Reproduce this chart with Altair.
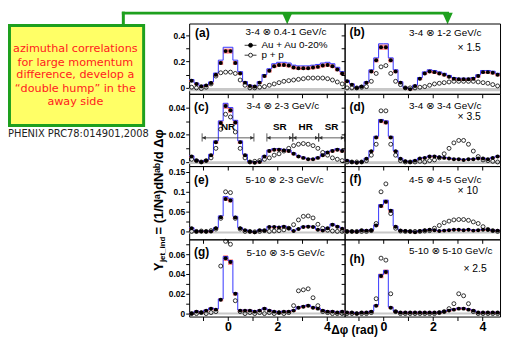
import math
import pandas as pd
import altair as alt

PI = math.pi
NB = 32
BW = PI / 16
x_centers = [-PI / 2 + (k + 0.5) * BW for k in range(NB)]

# ---- data (displayed values, incl. scale factors) ----
auau_a = [0.055, 0.03, 0.012, 0.018, 0.038, 0.10, 0.19, 0.28, 0.28, 0.19, 0.11, 0.04, 0.015, 0.01, 0.04, 0.09,
          0.13, 0.165, 0.175, 0.175, 0.17, 0.155, 0.15, 0.15, 0.15, 0.155, 0.16, 0.17, 0.175, 0.165, 0.14, 0.11]
pp_a = [0.005, 0.0, -0.005, 0.005, 0.03, 0.09, 0.115, 0.12, 0.12, 0.11, 0.06, 0.02, 0.0, 0.0, 0.005, 0.01,
        0.02, 0.03, 0.04, 0.05, 0.055, 0.06, 0.065, 0.07, 0.075, 0.075, 0.075, 0.075, 0.07, 0.06, 0.045, 0.03]
auau_b = [0.05, 0.025, 0.0, 0.01, 0.04, 0.125, 0.21, 0.31, 0.31, 0.21, 0.125, 0.04, 0.0, -0.01, 0.015, 0.07,
          0.11, 0.125, 0.12, 0.11, 0.10, 0.085, 0.07, 0.065, 0.065, 0.065, 0.07, 0.09, 0.12, 0.12, 0.115, 0.10]
pp_b = [0.0, 0.0, 0.0, 0.005, 0.01, 0.05, 0.11, 0.16, 0.17, 0.11, 0.05, 0.025, 0.0, 0.0, 0.0, 0.005,
        0.01, 0.02, 0.03, 0.035, 0.04, 0.045, 0.05, 0.05, 0.05, 0.05, 0.05, 0.045, 0.04, 0.035, 0.025, 0.015]
auau_c = [0.004, 0.001, 0.0, 0.001, 0.005, 0.0145, 0.0286, 0.041, 0.038, 0.029, 0.0145, 0.005, 0.0, -0.0005, 0.0, 0.004,
          0.008, 0.009, 0.009, 0.0085, 0.008, 0.006, 0.004, 0.003, 0.002, 0.002, 0.003, 0.005, 0.007, 0.008, 0.009, 0.008]
pp_c = [0.002, 0.001, 0.0, 0.001, 0.003, 0.01, 0.024, 0.035, 0.033, 0.022, 0.01, 0.003, 0.0, 0.0005, 0.001, 0.002,
        0.003, 0.005, 0.006, 0.008, 0.010, 0.012, 0.013, 0.0135, 0.013, 0.012, 0.010, 0.007, 0.005, 0.003, 0.002, 0.001]
auau_d = [0.001, 0.0, -0.0005, 0.0, 0.0024, 0.0078, 0.018, 0.030, 0.029, 0.018, 0.0078, 0.0024, 0.0005, 0.0, 0.001, 0.0025,
          0.003, 0.004, 0.004, 0.0035, 0.003, 0.0025, 0.002, 0.002, 0.0015, 0.002, 0.002, 0.0025, 0.0025, 0.002, 0.003, 0.004]
pp_d = [0.0, 0.0, 0.0, 0.0, 0.001, 0.005, 0.013, 0.0375, 0.0375, 0.013, 0.005, 0.001, 0.0, 0.0, 0.0, 0.0005,
        0.0, 0.001, 0.0015, 0.003, 0.006, 0.010, 0.014, 0.0158, 0.0158, 0.013, 0.008, 0.004, 0.0015, 0.001, 0.0005, 0.0]
auau_e = [0.008, 0.0, 0.0, 0.0, 0.0, 0.008, 0.036, 0.082, 0.078, 0.035, 0.008, 0.003, 0.0, -0.002, 0.003, 0.002,
          0.011, 0.011, 0.010, 0.012, 0.008, 0.001, 0.006, 0.011, 0.012, 0.011, 0.004, 0.002, 0.008, 0.017, 0.012, 0.007]
pp_e = [0.0, 0.0, 0.001, 0.0, 0.002, 0.006, 0.033, 0.10, 0.098, 0.033, 0.006, 0.0, 0.0, -0.001, 0.0, 0.002,
        0.0, 0.001, 0.002, 0.004, 0.008, 0.017, 0.029, 0.038, 0.039, 0.034, 0.018, 0.008, 0.003, 0.001, 0.0, 0.0]
auau_f = [0.0, 0.0, -0.001, 0.003, 0.002, 0.003, 0.015, 0.064, 0.075, 0.052, 0.012, 0.002, 0.001, 0.0, -0.002, 0.001,
          0.003, 0.004, 0.003, 0.001, 0.002, 0.003, 0.004, 0.004, 0.003, 0.004, 0.002, 0.003, 0.004, 0.004, 0.002, 0.002]
pp_f = [0.0, 0.0, 0.0, 0.0, 0.0, 0.002, 0.02, 0.10, 0.12, 0.045, 0.008, 0.001, 0.0, 0.0, 0.0, 0.0,
        0.001, 0.002, 0.008, 0.015, 0.022, 0.026, 0.029, 0.03, 0.03, 0.028, 0.024, 0.02, 0.012, 0.005, 0.002, 0.0]
auau_g = [0.0, 0.002, 0.001, 0.003, 0.005, 0.004, 0.014, 0.056, 0.052, 0.020, 0.003, 0.003, 0.003, 0.002, 0.003, 0.005,
          0.003, 0.002, 0.001, 0.002, 0.002, 0.003, 0.006, 0.007, 0.008, 0.006, 0.005, 0.003, 0.002, 0.002, 0.001, 0.002]
pp_g = [0.0, 0.0, 0.001, 0.0, 0.001, 0.002, 0.048, 0.073, 0.070, 0.013, 0.002, 0.0, 0.001, 0.0, 0.001, 0.0,
        0.001, 0.0, 0.001, 0.0, 0.001, 0.008, 0.023, 0.024, 0.025, 0.016, 0.008, 0.002, 0.001, 0.0, 0.0, 0.0]
auau_h = [0.001, 0.001, 0.0, 0.001, 0.001, 0.002, 0.008, 0.038, 0.042, 0.006, 0.002, 0.001, 0.001, 0.001, 0.001, 0.001,
          0.001, 0.001, 0.001, 0.001, 0.002, 0.003, 0.004, 0.005, 0.005, 0.004, 0.003, 0.001, 0.001, 0.001, 0.001, 0.001]
pp_h = [0.0, 0.0, 0.0, 0.0, 0.0, 0.001, 0.015, 0.056, 0.054, 0.02, 0.002, 0.0, 0.0, 0.0, 0.0, 0.0,
        0.0, 0.0, 0.0, 0.001, 0.002, 0.005, 0.01, 0.02, 0.018, 0.01, 0.002, 0.0, 0.0, 0.0, 0.0, 0.0]

AUAU = [auau_a, auau_b, auau_c, auau_d, auau_e, auau_f, auau_g, auau_h]
PP = [pp_a, pp_b, pp_c, pp_d, pp_e, pp_f, pp_g, pp_h]
keys = ["a", "b", "c", "d", "e", "f", "g", "h"]
titles = ["3-4 ⊗ 0.4-1 GeV/c", "3-4 ⊗ 1-2 GeV/c", "3-4 ⊗ 2-3 GeV/c", "3-4 ⊗ 3-4 GeV/c",
          "5-10 ⊗ 2-3 GeV/c", "4-5 ⊗ 4-5 GeV/c", "5-10 ⊗ 3-5 GeV/c", "5-10 ⊗ 5-10 GeV/c"]
mults = ["", "× 1.5", "", "× 3.5", "", "× 10", "", "× 2.5"]
sys_blue_frac = [0.09, 0.07, 0.04, 0.03, 0.06, 0.04, 0.02, 0.03]
sys_blue_abs = [0.004, 0.004, 0.0004, 0.0003, 0.001, 0.001, 0.0005, 0.0004]
sys_red_frac = [0.04, 0.04, 0.03, 0.03, 0.03, 0.03, 0.03, 0.03]
sys_red_abs = [0.008, 0.008, 0.0008, 0.0006, 0.0025, 0.0025, 0.0012, 0.0012]

row_domain = [[-0.045, 0.49], [-0.003, 0.050], [-0.02, 0.165], [-0.003, 0.075]]
row_band = [[-0.025, 0.0], [-0.0015, 0.0005], [-0.005, 0.0], [-0.001, 0.001]]
row_ticks = [[0, 0.1, 0.2, 0.3, 0.4], [0, 0.01, 0.02, 0.03, 0.04],
             [0, 0.025, 0.05, 0.075, 0.1, 0.125, 0.15], [0, 0.01, 0.02, 0.03, 0.04, 0.05, 0.06, 0.07]]
row_labels = [["0", "0.2", "0.4"], ["0", "0.02", "0.04"], ["0", "0.05", "0.1", "0.15"], ["0", "0.02", "0.04", "0.06"]]
row_height = [71, 73, 74, 78]
x_ticks = [-1, 0, 1, 2, 3, 4]

region_names = ["NR", "SR", "HR", "SR"]
region_lo = [-PI / 3, PI / 2, 5 * PI / 6, 7 * PI / 6]
region_hi = [PI / 3, 5 * PI / 6, 7 * PI / 6, 3 * PI / 2]

# ---- layout (pixels) ----
PW = 157
LW = 183
HH = 12
FONT = "Liberation Sans, DejaVu Sans"
label_pos = [(6, 10, 57, 9), (5, 9, 65, 10), (5, 13, 58, 12), (5, 13, 65, 12),
             (5, 14, 57, 14), (5, 13, 65, 14), (5, 13, 58, 14), (5, 20, 65, 12)]
mult_pos = [None, (114, 25), None, (114, 23), None, (114, 25), None, (120, 30)]

one = pd.DataFrame({"d": [0]})
GREEN = "#1ea01e"
NOFRAME = alt.ViewBackground(strokeOpacity=0)


def txt(s, x, y, size=10, weight="normal", color="black", align="left", angle=0, font=FONT, baseline="middle"):
    return alt.Chart(one).mark_text(text=s, fontSize=size, fontWeight=weight, color=color, align=align,
                                    baseline=baseline, angle=angle, font=font).encode(
        x=alt.value(x), y=alt.value(y))


def empty(w, h):
    return alt.Chart(one).mark_point(opacity=0, size=1).encode(x=alt.value(w / 2), y=alt.value(h / 2)).properties(
        width=w, height=h, view=NOFRAME)


def panel(i):
    row, col = i // 2, i % 2
    au, pp = AUAU[i], PP[i]
    xs = alt.Scale(domain=[-PI / 2, 1.5 * PI], nice=False, zero=False)
    ys = alt.Scale(domain=row_domain[row], nice=False, zero=False)
    hi = [v + sys_blue_frac[i] * abs(v) + sys_blue_abs[i] for v in au]
    rr = [sys_red_frac[i] * abs(v) + sys_red_abs[i] for v in au]
    pts = pd.DataFrame({"x": x_centers, "auau": au, "pp": pp,
                        "xlo": [c - BW / 2 for c in x_centers], "xhi": [c + BW / 2 for c in x_centers],
                        "rlo": [v - r for v, r in zip(au, rr)], "rhi": [v + r for v, r in zip(au, rr)]})
    erows = []
    for k in range(NB):
        erows.append({"i": 2 * k, "x": x_centers[k] - BW / 2, "v": au[k], "hi": hi[k]})
        erows.append({"i": 2 * k + 1, "x": x_centers[k] + BW / 2, "v": au[k], "hi": hi[k]})
    edges = pd.DataFrame(erows)
    band = pd.DataFrame({"x1": [-PI / 2], "x2": [1.5 * PI], "y1": [row_band[row][0]], "y2": [row_band[row][1]]})

    xaxis = alt.Axis(values=x_ticks, labels=(row == 3), format="~g",
                     labelExpr="indexof(['0','2','4'], datum.label) >= 0 ? datum.label : ''",
                     tickSize=4, tickColor="black", domain=False, grid=False, title=None,
                     labelFontSize=12.5, labelFontWeight="bold", labelFont=FONT, labelColor="black",
                     labelPadding=0)
    labs = row_labels[row]
    yaxis = alt.Axis(values=row_ticks[row], labels=(col == 0), format="~g",
                     labelExpr="indexof(" + str(labs) + ", datum.label) >= 0 ? datum.label : ''",
                     tickSize=3.5, tickColor="black", domain=False, grid=False, title=None,
                     labelFontSize=8.5, labelFontWeight="bold", labelFont=FONT, labelColor="black",
                     labelPadding=1)
    X = lambda f: alt.X(f + ":Q", scale=xs, axis=xaxis)
    Y = lambda f: alt.Y(f + ":Q", scale=ys, axis=yaxis)

    layers = [
        alt.Chart(band).mark_rect(color="#c8c8c8").encode(x=X("x1"), x2="x2:Q", y=Y("y1"), y2="y2:Q"),
        alt.Chart(edges).mark_area(color="#c6c6f6", opacity=0.85).encode(
            x=X("x"), y=Y("v"), y2="hi:Q", order="i:Q"),
        alt.Chart(pts).mark_rect(fill="#ff6a6a", opacity=0.85).encode(
            x=X("xlo"), x2="xhi:Q", y=Y("rlo"), y2="rhi:Q"),
        alt.Chart(edges).mark_line(color="#3535ff", strokeWidth=1).encode(x=X("x"), y=Y("hi"), order="i:Q"),
        alt.Chart(pts).mark_point(shape="circle", filled=False, color="black", size=16,
                                  strokeWidth=0.8, opacity=1).encode(x=X("x"), y=Y("pp")),
        alt.Chart(pts).mark_point(shape="circle", filled=True, color="black", size=16, opacity=1).encode(
            x=X("x"), y=Y("auau")),
    ]
    lx, ly, tx, ty = label_pos[i]
    layers.append(txt("(" + keys[i] + ")", lx, ly, size=12, weight="bold"))
    layers.append(txt(titles[i], tx, ty, size=10))
    if mult_pos[i]:
        layers.append(txt(mults[i], mult_pos[i][0], mult_pos[i][1], size=10.5))
    if i == 0:
        for yy, filled, s in [(22, True, "Au + Au 0-20%"), (32, False, "p + p")]:
            layers.append(alt.Chart(one).mark_rule(color="black", strokeWidth=0.8).encode(
                x=alt.value(56), x2=alt.value(68), y=alt.value(yy)))
            layers.append(alt.Chart(one).mark_point(shape="circle", filled=True,
                                                    fill="black" if filled else "white",
                                                    stroke="black", size=16, strokeWidth=0.8, opacity=1).encode(
                x=alt.value(62), y=alt.value(yy)))
            layers.append(txt(s, 73, yy, size=10))
    if i == 2:
        reg = pd.DataFrame({"lo": region_lo, "hi": region_hi,
                            "mid": [(a + b) / 2 for a, b in zip(region_lo, region_hi)],
                            "name": region_names, "yl": [0.0177] * 4, "yt": [0.0218] * 4,
                            "bl": [0.0150] * 4, "bh": [0.0210] * 4})
        layers += [
            alt.Chart(reg).mark_rule(color="#333", strokeWidth=0.8).encode(x=X("lo"), x2="hi:Q", y=Y("yl")),
            alt.Chart(reg).mark_rule(color="#333", strokeWidth=0.8).encode(x=X("lo"), y=Y("bl"), y2="bh:Q"),
            alt.Chart(reg).mark_rule(color="#333", strokeWidth=0.8).encode(x=X("hi"), y=Y("bl"), y2="bh:Q"),
            alt.Chart(reg).mark_point(shape="M0,0L2,-1L2,1Z", filled=True, color="#333", size=14,
                                      opacity=1).encode(x=X("lo"), y=Y("yl")),
            alt.Chart(reg).mark_point(shape="M0,0L-2,-1L-2,1Z", filled=True, color="#333", size=14,
                                      opacity=1).encode(x=X("hi"), y=Y("yl")),
            alt.Chart(reg).mark_text(fontSize=10, fontWeight="bold", font=FONT, baseline="bottom").encode(
                x=X("mid"), y=Y("yt"), text="name:N"),
        ]
    if i == 6:
        layers.append(txt("Δφ (rad)", 167, 92, size=12, weight="bold", align="center"))
    return alt.layer(*layers).properties(width=PW, height=row_height[row],
                                         view=alt.ViewBackground(stroke="black", strokeWidth=1))


# header cell: green connector with two arrows (drawn from the first column, overflowing to the right)
arrow = "M-1,-1.1L1,-1.1L0,1.1Z"
header = alt.layer(
    alt.Chart(one).mark_rule(color=GREEN, strokeWidth=3).encode(x=alt.value(115), x2=alt.value(445.5), y=alt.value(1.5)),
    alt.Chart(one).mark_rule(color=GREEN, strokeWidth=3).encode(x=alt.value(116.5), y=alt.value(0), y2=alt.value(HH + 3)),
    alt.Chart(one).mark_point(shape=arrow, filled=True, color=GREEN, size=110, opacity=1,
                              strokeWidth=0).encode(x=alt.value(282), y=alt.value(7)),
    alt.Chart(one).mark_point(shape=arrow, filled=True, color=GREEN, size=110, opacity=1,
                              strokeWidth=0).encode(x=alt.value(444), y=alt.value(7)),
).properties(width=LW, height=HH, view=NOFRAME)

# left cell: annotation box, reference text and y-axis title (overflows downwards)
box_lines = ["azimuthal correlations", "for large momentum", "difference, develop a",
             "“double hump” in the", "away side"]
box_y = [26, 39.5, 52.5, 66, 79]
left_layers = [
    alt.Chart(one).mark_rect(fill="#ffff66", stroke=GREEN, strokeWidth=3).encode(
        x=alt.value(1.5), x2=alt.value(137), y=alt.value(2), y2=alt.value(103)),
]
for s, yy in zip(box_lines, box_y):
    left_layers.append(txt(s, 68, yy, size=11.3, color="#ff2020", align="center", font="DejaVu Sans"))
left_layers.append(txt("PHENIX PRC78:014901,2008", 0, 112, size=10, color="#222", font="DejaVu Sans"))
left_layers.append(txt("Y", 153, 250, size=13, weight="bold", angle=270))
left_layers.append(txt("jet_ind", 157, 241, size=8, weight="bold", angle=270))
left_layers.append(txt("= (1/Nᵃ)dNᵃᵇ/d Δφ", 153, 213, size=13, weight="bold", angle=270))
left = alt.layer(*left_layers).properties(width=LW, height=row_height[0], view=NOFRAME)

cells = [header, empty(PW, HH), empty(PW, HH)]
for r in range(4):
    cells.append(left if r == 0 else empty(LW, row_height[r]))
    cells.append(panel(2 * r))
    cells.append(panel(2 * r + 1))

chart = alt.concat(*cells, columns=3, spacing=0, bounds="flush").properties(padding=0).configure(
    background="white")

chart.save("out.html", embed_options={"renderer": "svg", "actions": False})
